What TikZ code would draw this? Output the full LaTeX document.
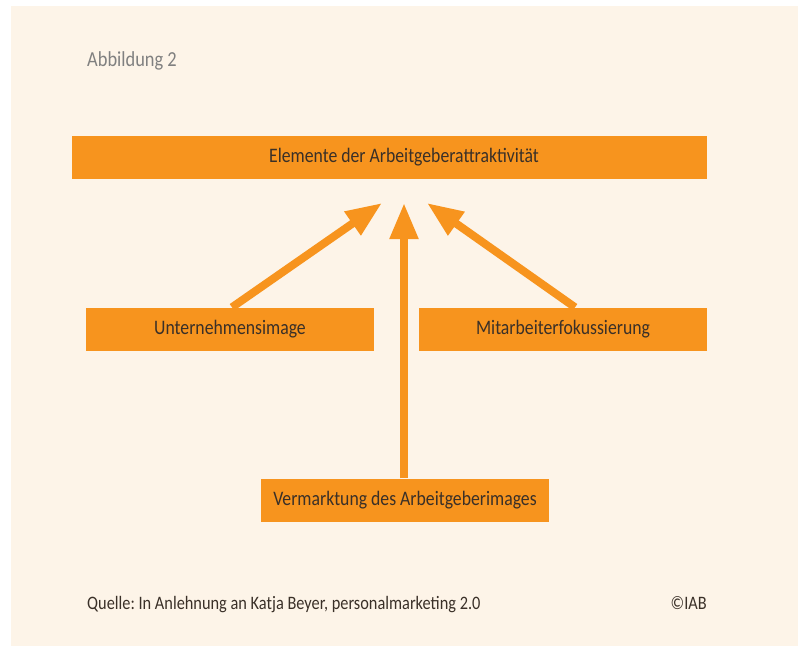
\documentclass[tikz,border=0pt]{standalone}
\usepackage{fontspec}
\setmainfont{Carlito}[FakeStretch=0.86]
\frenchspacing
\usetikzlibrary{positioning,arrows.meta}
\definecolor{colorbg}   {RGB}{253,244,232}
\definecolor{colorbox}  {RGB}{247,148,30}
\definecolor{colortext} {RGB}{58 ,48 ,40 }
\definecolor{colorgrey} {RGB}{128,128,128}

\begin{document}
\begin{tikzpicture}[
    x=1pt, y=-1pt,
    font={\fontsize{20.6}{24}\selectfont},
    bar/.style={fill=colorbox,minimum height=43pt,inner sep=0pt,text=colortext},
    note/.style={text=colortext,inner sep=0pt},
    small/.style={font={\fontsize{19}{22}\selectfont}},
    arrowline/.style={draw=colorbox,line width=8pt,-{Triangle[length=36pt,width=27pt]}},
]

    \useasboundingbox (0,0) rectangle (798,646);
    \fill[white] (0,0) rectangle (798,646);
    \fill[colorbg] (11,6) rectangle (798,646);

    \node[note,text=colorgrey,anchor=base west,font={\fontsize{21.4}{24}\selectfont}] (title) at (87,66.5) {Abbildung 2};

    \node[bar,minimum width=635pt] (elem) at (389.5,157.5) {};
    \node[note] (elemtext) at (404,157.5) {Elemente der Arbeitgeberattraktivität};

    \node[bar,minimum width=288pt] (image) at (230,329) {Unternehmensimage};
    \node[bar,minimum width=288pt] (fokus) at (563,329) {Mitarbeiterfokussierung};
    \node[bar,minimum width=288pt] (markt) at (405,500) {Vermarktung des Arbeitgeberimages};

    \coordinate (tipleft)  at (382,203);
    \coordinate (tipmid)   at (404,203);
    \coordinate (tipright) at (427,203);

    \draw[arrowline] ([xshift=2pt]image.north) -- (tipleft);
    \draw[arrowline] ([xshift=-1pt]markt.north) -- (tipmid);
    \draw[arrowline] ([xshift=12pt]fokus.north) -- (tipright);

    \node[note,small,anchor=base west] (source) at (87,609) {Quelle: In Anlehnung an Katja Beyer, personalmarketing 2.0};
    \node[note,small,anchor=base east] (copy) at (707,609) {©IAB};

\end{tikzpicture}
\end{document}
